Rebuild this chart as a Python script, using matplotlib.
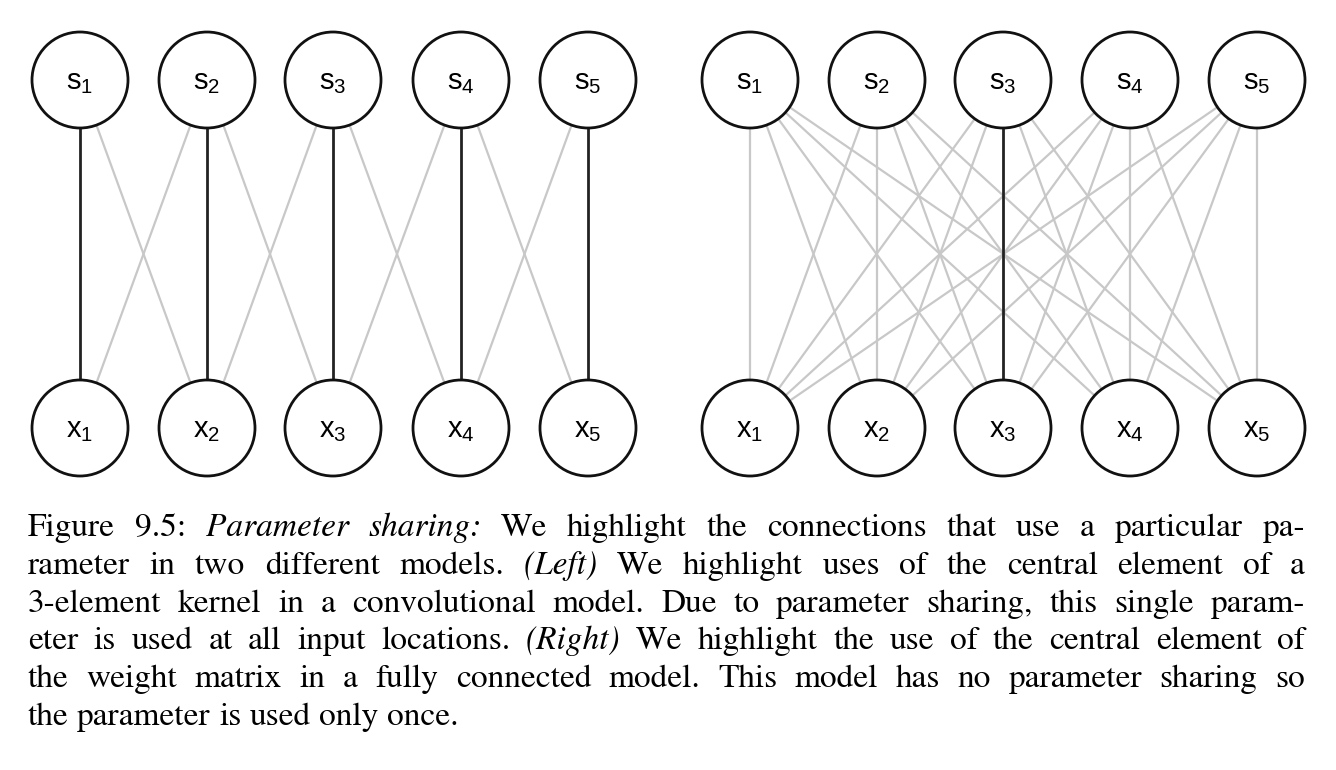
import matplotlib
matplotlib.use("Agg")
import matplotlib.pyplot as plt
from matplotlib.patches import Circle

left_x = [80, 207, 333, 461, 588]
right_x = [750, 877, 1003, 1130, 1257]
top_y, bot_y, R = 80, 428, 48
s_labels = ["s_1", "s_2", "s_3", "s_4", "s_5"]
x_labels = ["x_1", "x_2", "x_3", "x_4", "x_5"]

caption = [
    ("Figure 9.5: |*Parameter sharing:*| We highlight the connections that use a particular pa-", True),
    ("rameter in two different models. |*(Left)*| We highlight uses of the central element of a", True),
    ("3-element kernel in a convolutional model. Due to parameter sharing, this single param-", True),
    ("eter is used at all input locations. |*(Right)*| We highlight the use of the central element of", True),
    ("the weight matrix in a fully connected model. This model has no parameter sharing so", True),
    ("the parameter is used only once.", False),
]
line_y = [528, 566, 604, 641, 679, 717]

fig = plt.figure(figsize=(13.36, 7.7), dpi=100)
ax = fig.add_axes([0, 0, 1, 1])
ax.set_xlim(0, 1336); ax.set_ylim(770, 0); ax.axis("off")

DARK, LIGHT = "#222222", "#c8c8c8"
def edge(x0, x1, dark):
    ax.plot([x0, x1], [top_y, bot_y], color=DARK if dark else LIGHT,
            lw=2.0 if dark else 1.6, zorder=2 if dark else 1, solid_capstyle="butt")

for i, xs in enumerate(left_x):
    for j in (i - 1, i, i + 1):
        if 0 <= j < 5:
            edge(xs, left_x[j], i == j)
for i, xs in enumerate(right_x):
    for j, xb in enumerate(right_x):
        edge(xs, xb, i == 2 and j == 2)

for xs_list in (left_x, right_x):
    for k, xc in enumerate(xs_list):
        for yc, lab in ((top_y, s_labels[k]), (bot_y, x_labels[k])):
            ax.add_patch(Circle((xc, yc), R, facecolor="white", edgecolor="#111111", lw=2, zorder=3))
            ax.text(xc, yc + 2, r"$\mathregular{%s}$" % lab, ha="center", va="center",
                    fontsize=21, family="Liberation Sans", zorder=4)

fig.canvas.draw()
renderer = fig.canvas.get_renderer()
FS = 24
X0, X1 = 28, 1305
for (line, justify), y in zip(caption, line_y):
    words = []
    for seg in line.split("|"):
        ital = seg.startswith("*")
        seg = seg.strip("*")
        for w in seg.split():
            words.append((w, ital))
    texts, widths = [], []
    for w, ital in words:
        t = ax.text(0, y, w, fontsize=FS, family="STIXGeneral",
                    style="italic" if ital else "normal", va="center", ha="left")
        texts.append(t)
        widths.append(t.get_window_extent(renderer).width)
    if justify and len(words) > 1:
        gap = (X1 - X0 - sum(widths)) / (len(words) - 1)
    else:
        sp = ax.text(0, 0, "a a", fontsize=FS, family="STIXGeneral")
        sp2 = ax.text(0, 0, "aa", fontsize=FS, family="STIXGeneral")
        gap = sp.get_window_extent(renderer).width - sp2.get_window_extent(renderer).width
        sp.remove(); sp2.remove()
    x = X0
    for t, wd in zip(texts, widths):
        t.set_x(x)
        x += wd + gap

fig.savefig("out.png", dpi=100, facecolor="white")
